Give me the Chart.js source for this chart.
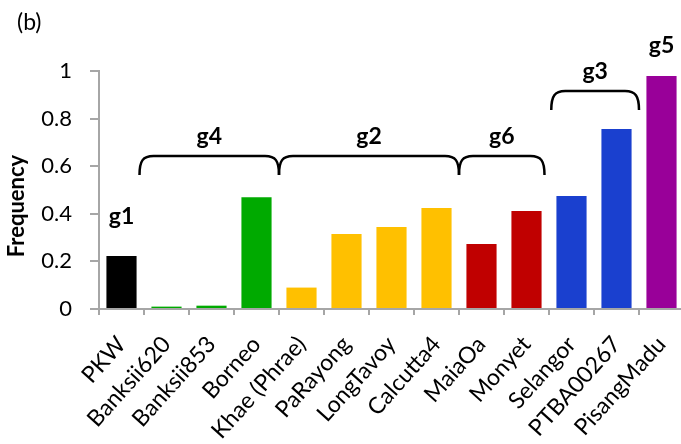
<!DOCTYPE html>
<html>
<head>
<meta charset="utf-8">
<script src="https://cdn.jsdelivr.net/npm/chart.js@4"></script>
<style>
  html, body { margin: 0; padding: 0; background: #fff; overflow: hidden; }
  #wrap { width: 681px; height: 444px; overflow: hidden; }
</style>
</head>
<body>
<div id="wrap"><canvas id="freqChart" width="684" height="444"></canvas></div>
<script>
// data
const cultivars = ['PKW', 'Banksii620', 'Banksii853', 'Borneo', 'Khae (Phrae)', 'PaRayong',
  'LongTavoy', 'Calcutta4', 'MaiaOa', 'Monyet', 'Selangor', 'PTBA00267', 'PisangMadu'];
const frequency = [0.223, 0.01, 0.014, 0.47, 0.09, 0.315, 0.345, 0.424, 0.273, 0.412, 0.475, 0.756, 0.979];
const groupOf = ['g1', 'g4', 'g4', 'g4', 'g2', 'g2', 'g2', 'g2', 'g6', 'g6', 'g3', 'g3', 'g5'];
const yTicks = [0, 0.2, 0.4, 0.6, 0.8, 1];

const groupColors = {
  g1: '#000000', g4: '#00AA00', g2: '#FFC000', g6: '#C00000', g3: '#1A40CF', g5: '#990099'
};

// brace annotations (in category index / value units)
const braceNames = ['g4', 'g2', 'g6', 'g3'];
const braceFrom = [0.4, 3.5, 7.5, 9.55];
const braceTo = [3.5, 7.5, 9.4, 11.5];
const braceLevel = [0.643, 0.643, 0.643, 0.916];

// free group labels (g1 and g5 sit over a single bar)
const soloNames = ['g1', 'g5'];
const soloIndex = [0, 12];
const soloLevel = [0.39, 1.105];

const FONT = 'Lato, "Liberation Sans", sans-serif';

const braces = {
  id: 'braces',
  afterDatasetsDraw(chart) {
    const ctx = chart.ctx;
    const xs = chart.scales.x, ys = chart.scales.y;
    ctx.save();
    ctx.strokeStyle = '#000';
    ctx.lineWidth = 2.5;
    ctx.fillStyle = '#000';
    ctx.font = 'bold 23px ' + FONT;
    ctx.textAlign = 'center';
    ctx.textBaseline = 'middle';
    const drop = 19, rx = 14;
    braceNames.forEach((name, i) => {
      const xa = xs.getPixelForValue(braceFrom[i]);
      const xb = xs.getPixelForValue(braceTo[i]);
      const yt = ys.getPixelForValue(braceLevel[i]);
      ctx.beginPath();
      ctx.moveTo(xa, yt + drop);
      ctx.bezierCurveTo(xa, yt + drop * 0.25, xa + rx * 0.25, yt, xa + rx, yt);
      ctx.lineTo(xb - rx, yt);
      ctx.bezierCurveTo(xb - rx * 0.25, yt, xb, yt + drop * 0.25, xb, yt + drop);
      ctx.stroke();
      ctx.fillText(name, (xa + xb) / 2, yt - 19);
    });
    soloNames.forEach((name, i) => {
      ctx.fillText(name, xs.getPixelForValue(soloIndex[i]), ys.getPixelForValue(soloLevel[i]));
    });

    // y axis title, sits a little below the middle of the axis in the original
    ctx.save();
    ctx.translate(17, 206);
    ctx.rotate(-Math.PI / 2);
    ctx.font = 'bold 22px ' + FONT;
    ctx.fillText('Frequency', 0, 0);
    ctx.restore();

    ctx.font = '23px ' + FONT;
    ctx.textAlign = 'left';
    ctx.fillText('(b)', 17, 23);
    ctx.restore();
  }
};

const ctx = document.getElementById('freqChart').getContext('2d');
new Chart(ctx, {
  type: 'bar',
  data: {
    labels: cultivars,
    datasets: [{
      label: 'Frequency',
      data: frequency,
      backgroundColor: groupOf.map(g => groupColors[g]),
      barPercentage: 0.67,
      categoryPercentage: 1
    }]
  },
  options: {
    responsive: false,
    animation: false,
    layout: { padding: { top: 71, left: 0, right: 0, bottom: 0 } },
    plugins: { legend: { display: false }, tooltip: { enabled: false } },
    scales: {
      x: {
        grid: { drawOnChartArea: false, tickLength: 6, color: '#A6A6A6', lineWidth: 2, offset: true },
        border: { color: '#A6A6A6', width: 2 },
        ticks: {
          color: '#000', font: { family: FONT, size: 23 },
          minRotation: 48, maxRotation: 48, autoSkip: false, padding: 16
        },
        afterFit(scale) {
          scale.height = 135;
          scale.paddingLeft = 0;
          scale.paddingRight = 0;
        }
      },
      y: {
        min: 0, max: 1,
        afterBuildTicks(scale) { scale.ticks = yTicks.map(v => ({ value: v })); },
        grid: { drawOnChartArea: false, tickLength: 9, color: '#A6A6A6', lineWidth: 2 },
        border: { color: '#A6A6A6', width: 2 },
        ticks: {
          color: '#000', font: { family: FONT, size: 22 }, padding: 18,
          callback: v => String(+v.toFixed(1))
        },
        afterFit(scale) { scale.width = 99; }
      }
    }
  },
  plugins: [braces]
});
</script>
</body>
</html>
